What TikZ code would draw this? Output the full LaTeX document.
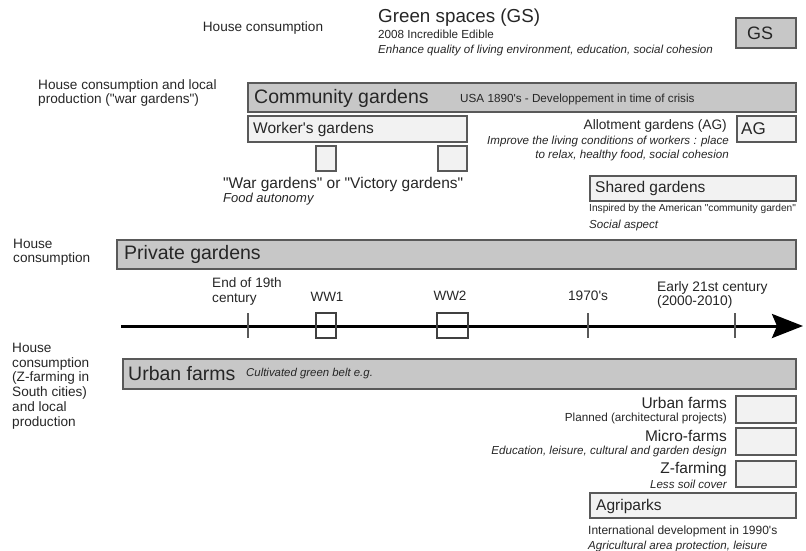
\documentclass[tikz,border=0pt]{standalone}
\usepackage{fontspec}
\setmainfont{Liberation Sans}
\newfontfamily\lsans{Liberation Sans}
\usetikzlibrary{arrows.meta}
\newcommand{\fsz}[2][0]{\fontsize{#2}{#2}\lsans}
\newcommand{\fszl}[2]{\fontsize{#1}{#2}\lsans}
\begin{document}
\begin{tikzpicture}[x=1pt,y=-1pt,
  darkbar/.style={draw=black!65,fill=black!22,line width=1.2pt},
  lightbox/.style={draw=black!65,fill=black!5,line width=1.2pt},
  txt/.style={inner sep=0pt,text=black!85,align=left},
  bigtxt/.style={txt,font=\fsz{19.5}},
  midtxt/.style={txt,font=\fsz{15.5}},
  labtxt/.style={txt,font=\fszl{13.6}{14.2}},
  smalltxt/.style={txt,font=\fsz{11.7}},
  notetxt/.style={txt,font=\fsz{11.6}\itshape}]
\useasboundingbox (0,0) rectangle (806,550);
\draw[darkbar] (736,18) rectangle (796,48);
\draw[darkbar] (248,83) rectangle (796,112);
\draw[lightbox] (248,116) rectangle (467,142);
\draw[lightbox] (737,116) rectangle (796,142);
\draw[lightbox] (316,146) rectangle (336,171);
\draw[lightbox] (438,146) rectangle (467,171);
\draw[lightbox] (590,176) rectangle (796,201);
\draw[darkbar] (117,240) rectangle (796,269);
\draw[darkbar] (123,359) rectangle (796,389);
\draw[lightbox] (736,396) rectangle (796,423);
\draw[lightbox] (736,428) rectangle (796,455);
\draw[lightbox] (736,461) rectangle (796,487);
\draw[lightbox] (590,493) rectangle (796,518);
\node[labtxt] (hc1) at (263,28) {House consumption};
\node[txt,font=\fsz{18.8},anchor=west] (gs) at (378,18) {Green spaces (GS)};
\node[smalltxt,anchor=west] (ie) at (378,34) {2008 Incredible Edible};
\node[notetxt,anchor=west] (gsnote) at (378,50) {Enhance quality of living environment, education, social cohesion};
\node[txt,font=\fsz{18},anchor=west] (gsbox) at (747,33) {GS};
\node[labtxt,anchor=west] (hc2) at (38,93) {House consumption and local\\production ("war gardens")};
\node[bigtxt,anchor=west] (cg) at (254,98) {Community gardens};
\node[smalltxt,anchor=west] (cgnote) at (460,99) {USA 1890's - Developpement in time of crisis};
\node[midtxt,anchor=west] (wg) at (253,129) {Worker's gardens};
\node[midtxt,anchor=west] (vg) at (223,184) {"War gardens" or "Victory gardens"};
\node[txt,font=\fsz{13}\itshape,anchor=west] (vgnote) at (223,199) {Food autonomy};
\node[txt,font=\fsz{13.7},anchor=east] (ag) at (727,126) {Allotment gardens (AG)};
\node[notetxt,anchor=east] (agnote1) at (729,141) {Improve the living conditions of workers : place};
\node[notetxt,anchor=east] (agnote2) at (729,155) {to relax, healthy food, social cohesion};
\node[txt,font=\fsz{17},anchor=west] (agbox) at (741,129) {AG};
\node[midtxt,anchor=west] (sg) at (595,188) {Shared gardens};
\node[txt,font=\fsz{10.2},anchor=west] (sgnote1) at (589,209) {Inspired by the American "community garden"};
\node[notetxt,anchor=west] (sgnote2) at (589,225) {Social aspect};
\node[labtxt,anchor=west] (hc3) at (13,252) {House\\consumption};
\node[bigtxt,anchor=west] (pg) at (124,254) {Private gardens};
\coordinate (tls) at (121,326);
\coordinate (tle) at (803,326);
\draw[line width=3pt,-{Stealth[length=31pt,width=24pt,inset=5pt]}] (tls) -- (tle);
\foreach \tx in {248,588,735} \draw[line width=1.2pt,black!65] (\tx,313) -- (\tx,338);
\draw[line width=1.2pt,black!75] (316,313) rectangle (336,338);
\draw[line width=1.2pt,black!75] (437,313) rectangle (468,338);
\node[txt,font=\fszl{13.6}{15},anchor=west] (t19) at (212,291) {End of 19th\\century};
\node[txt,font=\fsz{13.5}] (ww1) at (327,297) {WW1};
\node[txt,font=\fsz{13.5}] (ww2) at (450,296) {WW2};
\node[txt,font=\fsz{13.7}] (t70) at (588,296) {1970's};
\node[txt,font=\fszl{13.8}{14.5},anchor=west] (t21) at (657,295) {Early 21st century\\(2000-2010)};
\node[txt,font=\fszl{13.6}{14.8},anchor=west] (hc4) at (12,386) {House\\consumption\\(Z-farming in\\South cities)\\and local\\production};
\node[bigtxt,anchor=west] (uf) at (128,374) {Urban farms};
\node[notetxt,font=\fsz{11.4}\itshape,anchor=west] (ufnote) at (246,374) {Cultivated green belt e.g.};
\node[midtxt,anchor=east] (uf2) at (727,403) {Urban farms};
\node[smalltxt,anchor=east] (uf2note) at (727,418) {Planned (architectural projects)};
\node[midtxt,anchor=east] (mf) at (727,436) {Micro-farms};
\node[notetxt,anchor=east] (mfnote) at (727,451) {Education, leisure, cultural and garden design};
\node[midtxt,anchor=east] (zf) at (727,469) {Z-farming};
\node[notetxt,anchor=east] (zfnote) at (727,484) {Less soil cover};
\node[midtxt,anchor=west] (ap) at (596,506) {Agriparks};
\node[smalltxt,font=\fsz{12},anchor=west] (apnote1) at (588,531) {International development in 1990's};
\node[notetxt,anchor=west] (apnote2) at (588,546) {Agricultural area protection, leisure};
\end{tikzpicture}
\end{document}
